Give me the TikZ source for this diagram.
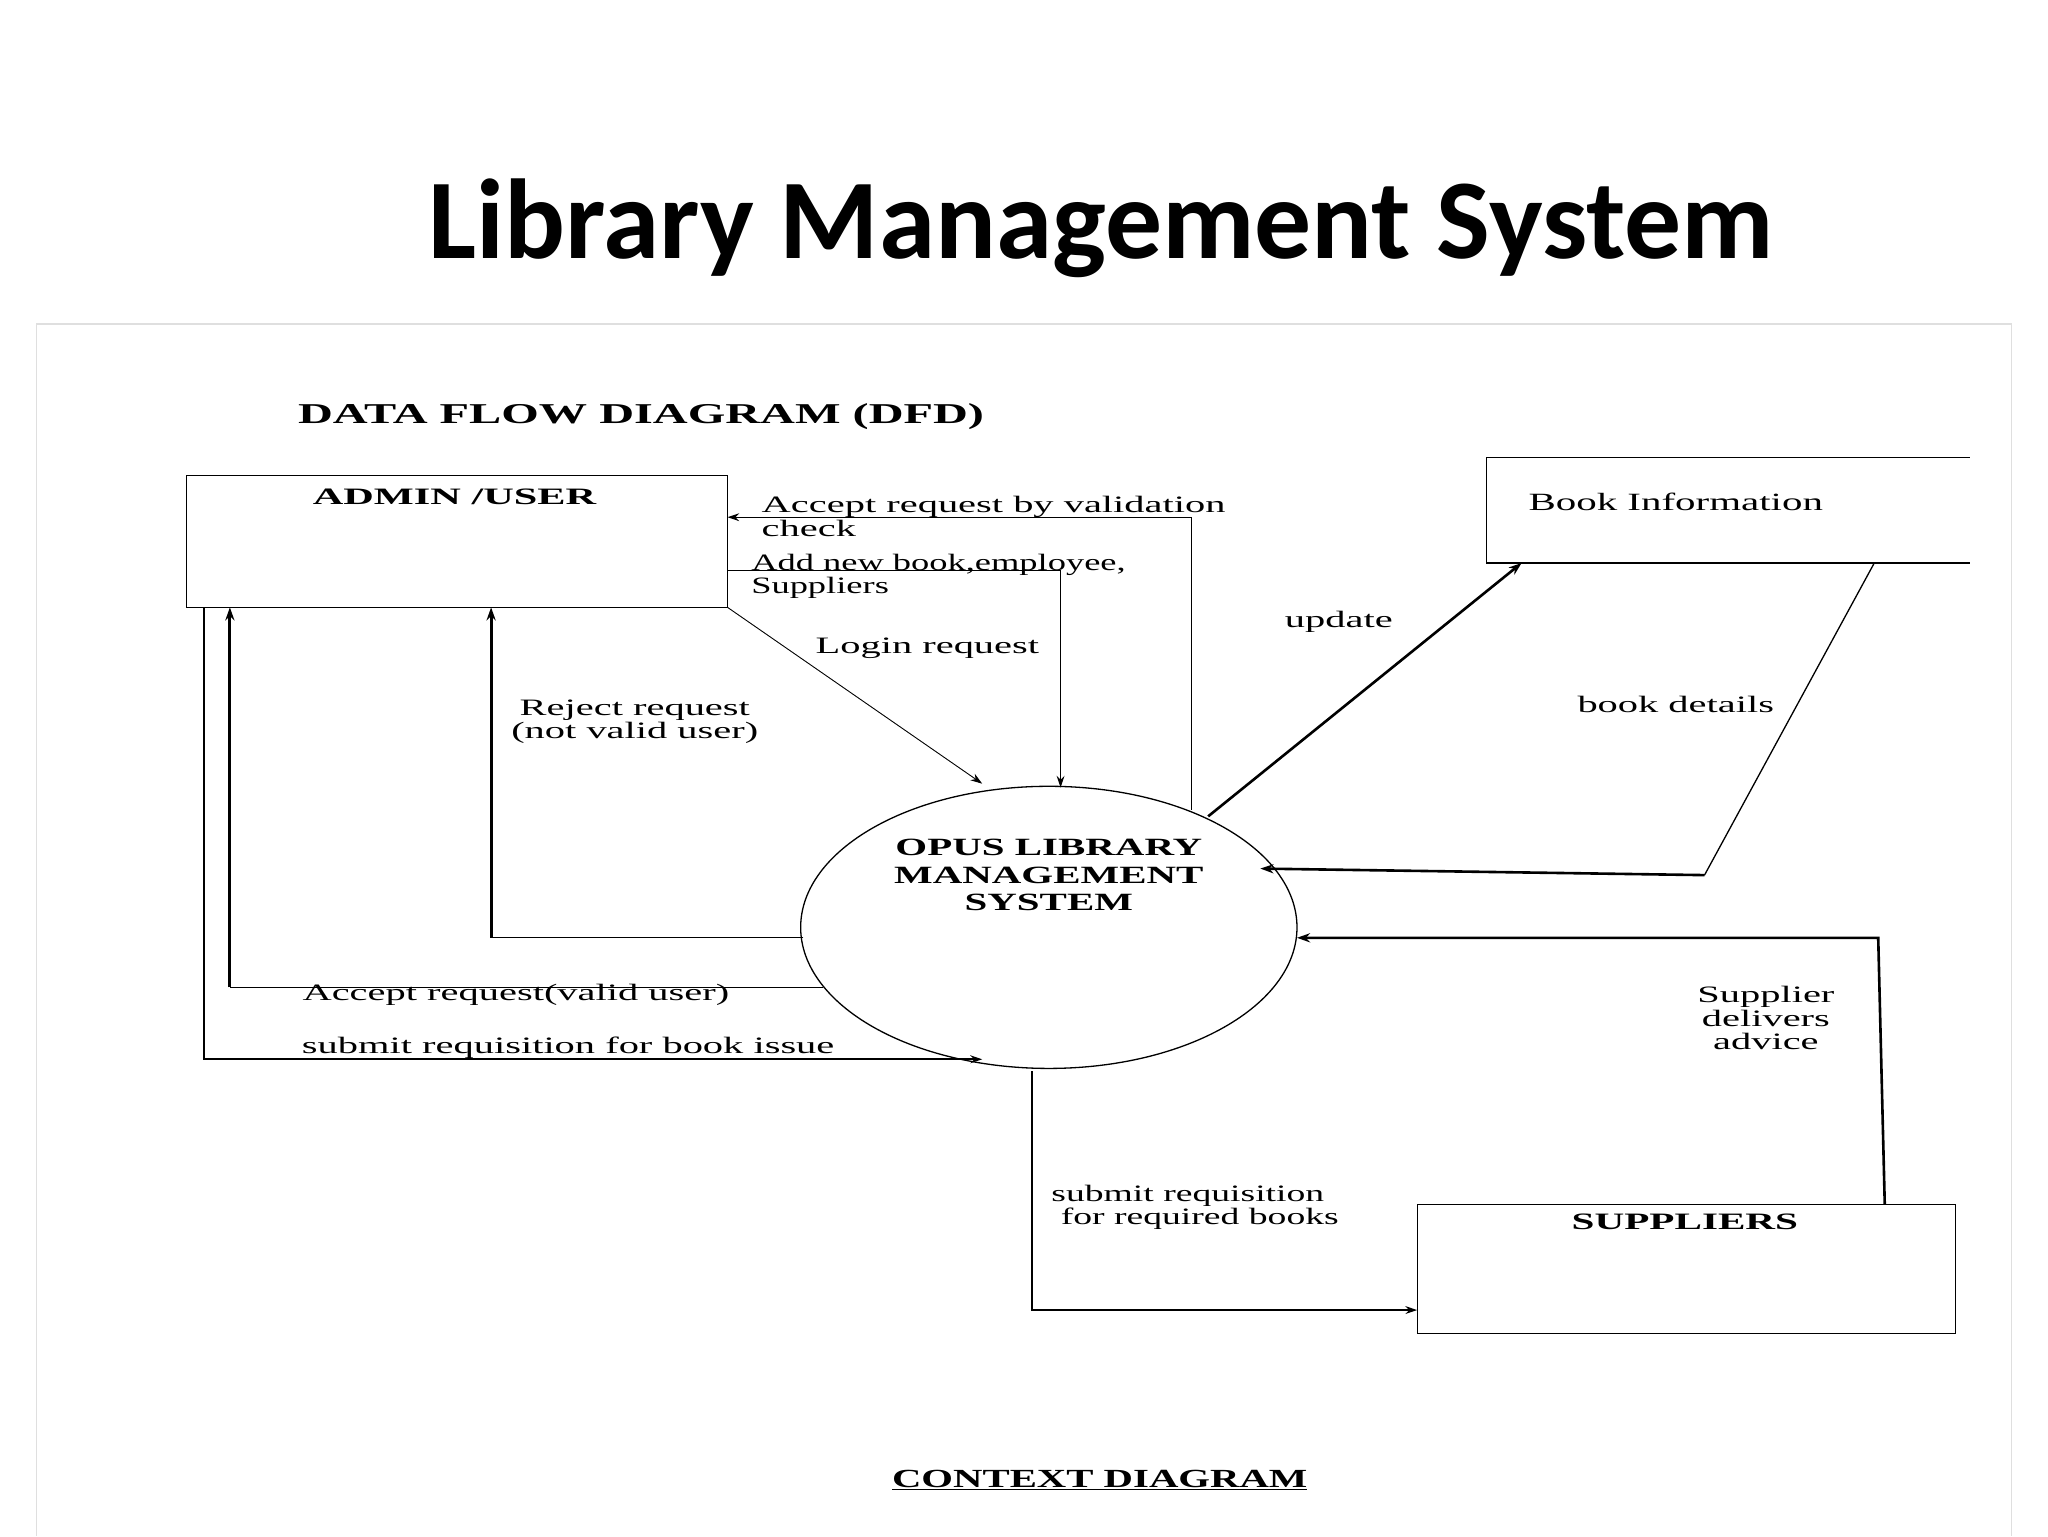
\documentclass[tikz,border=0pt]{standalone}
\usepackage{fontspec}
\usepackage{graphicx}
\setmainfont{Liberation Serif}
\newfontfamily\titlefont{Carlito}
\usetikzlibrary{arrows.meta,shapes.geometric}
\newcommand\wl[2][1.72]{\scalebox{#1}[1]{\begin{tabular}{@{}l@{}}#2\end{tabular}}}
\newcommand\wc[2][1.72]{\scalebox{#1}[1]{\begin{tabular}{@{}c@{}}#2\end{tabular}}}
\begin{document}
\begin{tikzpicture}[x=1pt,y=-1pt,
  lbl/.style={font=\fontsize{18}{19}\selectfont,inner sep=0pt},
  ent/.style={font=\bfseries\fontsize{18}{19}\selectfont,inner sep=0pt},
  flow/.style={line width=1pt,-{Stealth[length=9pt,width=6pt]}},
  thick flow/.style={line width=2.4pt,-{Stealth[length=10pt,width=7pt]}}]
\useasboundingbox (0,0) rectangle (1568,1176);
\renewcommand{\arraystretch}{0.95}
\draw[gray!25,line width=1pt] (28,1176) -- (28,248) -- (1540,248) -- (1540,1176);
\node[font=\titlefont\bfseries\fontsize{87}{90}\selectfont] (title) at (843,175) {Library Management System};
\node[ent,anchor=west,font=\bfseries\fontsize{22}{24}\selectfont] (dfd) at (228,320) {\wl[1.68]{DATA FLOW DIAGRAM (DFD)}};
% entities
\draw[line width=1pt] (143,364) rectangle (557,465);
\coordinate (adminNE) at (557,396);
\node[ent] (admin) at (348,383) {\wc[1.8]{ADMIN /USER}};
\draw[line width=1pt] (1508,350) -- (1138,350) -- (1138,431) -- (1508,431);
\node[lbl,font=\fontsize{19}{20}\selectfont] (book) at (1283,387) {\wc[1.65]{Book Information}};
\draw[line width=1pt] (1085,922) rectangle (1497,1021);
\node[ent] (sup) at (1290,938) {\wc[1.75]{SUPPLIERS}};
\node[draw,line width=1pt,ellipse,minimum width=380pt,minimum height=216pt] (sys) at (803,710) {};
\node[ent,font=\bfseries\fontsize{19}{22}\selectfont] (syst) at (803,672) {\wc[1.65]{OPUS LIBRARY\\MANAGEMENT\\SYSTEM}};
% flows
\coordinate (a1) at (912,620); \coordinate (a2) at (912,396);
\draw[flow] (a1) -- (a2) -- (adminNE);
\node[lbl,anchor=west] (l1) at (583,398) {\wl{Accept request by validation\\check}};
\coordinate (b1) at (557,437); \coordinate (b2) at (812,437); \coordinate (b3) at (812,603);
\draw[flow] (b1) -- (b2) -- (b3);
\node[lbl,anchor=west] (l2) at (575,442) {\wl[1.55]{Add new book,employee,\\Suppliers}};
\coordinate (c1) at (557,465); \coordinate (c2) at (752,600);
\draw[flow,line width=0.7pt] (c1) -- (c2);
\node[lbl] (l3) at (710,497) {\wc{Login request}};
\coordinate (d1) at (615,718); \coordinate (d2) at (376,718); \coordinate (d3) at (376,465);
\draw[line width=1pt] (d1) -- (d2);
\draw[thick flow] (d2) -- (d3);
\node[lbl] (l4) at (486,553) {\wc{Reject request\\(not valid user)}};
\coordinate (e1) at (630,756); \coordinate (e2) at (176,756); \coordinate (e3) at (176,465);
\draw[line width=1pt] (e1) -- (e2);
\draw[thick flow] (e2) -- (e3);
\node[lbl] (l5) at (395,762) {\wc{Accept request(valid user)}};
\coordinate (f1) at (156,465); \coordinate (f2) at (156,811); \coordinate (f3) at (752,811);
\draw[flow,line width=1.6pt] (f1) -- (f2) -- (f3);
\node[lbl] (l6) at (435,803) {\wc{submit requisition for book issue}};
\coordinate (g1) at (925,625); \coordinate (g2) at (1165,431);
\draw[thick flow,line width=2pt] (g1) -- (g2);
\node[lbl] (l7) at (1025,477) {\wc{update}};
\coordinate (h1) at (1435,431); \coordinate (h2) at (1305,670); \coordinate (h3) at (965,665);
\draw[line width=1pt] (h1) -- (h2);
\draw[thick flow,line width=2pt] (h2) -- (h3);
\node[lbl] (l8) at (1283,542) {\wc{book details}};
\coordinate (i1) at (1443,922); \coordinate (i2) at (1438,718); \coordinate (i3) at (993,718);
\draw[thick flow,line width=2pt] (i1) -- (i2) -- (i3);
\node[lbl] (l9) at (1352,782) {\wc{Supplier\\delivers\\advice}};
\coordinate (j1) at (790,820); \coordinate (j2) at (790,1003); \coordinate (j3) at (1085,1003);
\draw[flow] (j1) -- (j2) -- (j3);
\node[lbl] (l10) at (915,925) {\wl[1.6]{submit requisition\\\ for required books}};
\node[ent,font=\bfseries\fontsize{20}{22}\selectfont] (ctx) at (842,1133) {\scalebox{1.56}[1]{\underline{CONTEXT DIAGRAM}}};
\end{tikzpicture}
\end{document}
